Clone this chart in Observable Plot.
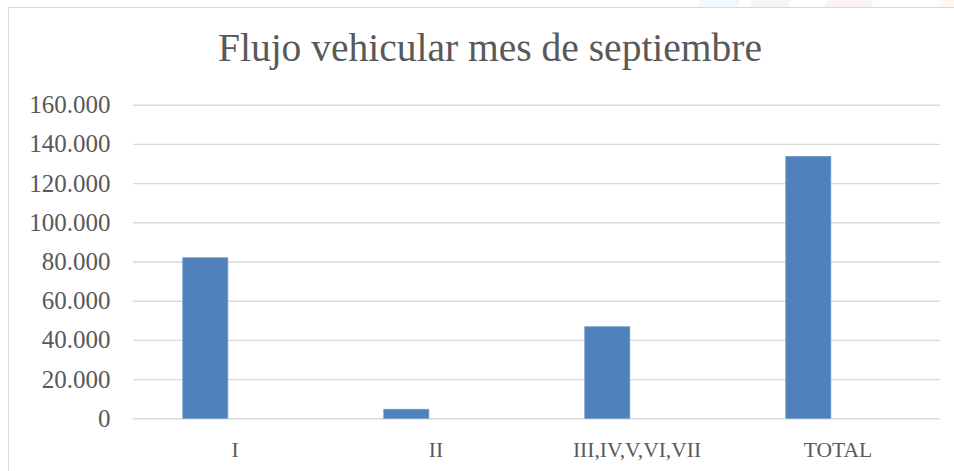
<!DOCTYPE html>
<html>
<head>
<meta charset="utf-8">
<script src="https://cdn.jsdelivr.net/npm/d3@7"></script>
<script src="https://cdn.jsdelivr.net/npm/@observablehq/plot@0.6"></script>
<style>
  html, body { margin: 0; padding: 0; background: #fff; }
  #wrap { position: relative; width: 954px; height: 471px; overflow: hidden; background: #fff; }
  .wm { position: absolute; top: -4px; height: 11px; transform: skewX(-25deg); opacity: 0.09; }
  #frame { position: absolute; left: 8px; top: 7px; width: 960px; height: 480px; border-left: 1.5px solid #d9d9d9; border-top: 1.5px solid #d9d9d9; box-sizing: border-box; }
  #title { position: absolute; left: 0; width: 980px; top: 26px; text-align: center; font-family: "Liberation Serif", serif; font-size: 39.5px; line-height: 44px; color: #595959; }
  #chart { position: absolute; left: 0; top: 80px; }
</style>
</head>
<body>
<div id="wrap">
  <div class="wm" style="left:700px;width:40px;background:#7fb0e0"></div>
  <div class="wm" style="left:752px;width:38px;background:#7a9a88"></div>
  <div class="wm" style="left:827px;width:46px;background:#e08080"></div>
  <div class="wm" style="left:940px;width:30px;background:#f0b070"></div>
  <div id="frame"></div>
  <div id="title">Flujo vehicular mes de septiembre</div>
  <div id="chart"></div>
</div>
<script>
const categories = ["I", "II", "III,IV,V,VI,VII", "TOTAL"];
const values = [81900, 4600, 46700, 133600];
const yTicks = [0, 20000, 40000, 60000, 80000, 100000, 120000, 140000, 160000];

const data = categories.map((c, i) => ({category: c, value: values[i]}));
const es = d3.formatLocale({decimal: ",", thousands: ".", grouping: [3], currency: ["", ""]});
const fmt = es.format(",.0f");

const chart = Plot.plot({
  width: 954,
  height: 391,
  marginLeft: 133,
  marginRight: 14,
  marginTop: 24.7,
  marginBottom: 52.7,
  style: {fontFamily: "'Liberation Serif', serif", color: "#595959", background: "transparent", overflow: "visible"},
  x: {domain: categories, paddingInner: 0.776, paddingOuter: 0.388, label: null},
  y: {domain: [0, 160000], label: null},
  marks: [
    Plot.gridY(yTicks, {stroke: "#d9d9d9", strokeOpacity: 1, strokeWidth: 1.4}),
    Plot.barY(data, {x: "category", y: "value", fill: "#4f81bd", stroke: "#6d95c7", strokeWidth: 0.8, dx: -29.2}),
    Plot.axisY({ticks: yTicks, tickFormat: fmt, tickSize: 0, tickPadding: 23, fontSize: 25, fill: "#595959"}),
    Plot.axisX({tickSize: 0, tickPadding: 23, fontSize: 21.5, fill: "#595959"})
  ]
});
document.getElementById("chart").appendChild(chart);
</script>
</body>
</html>
